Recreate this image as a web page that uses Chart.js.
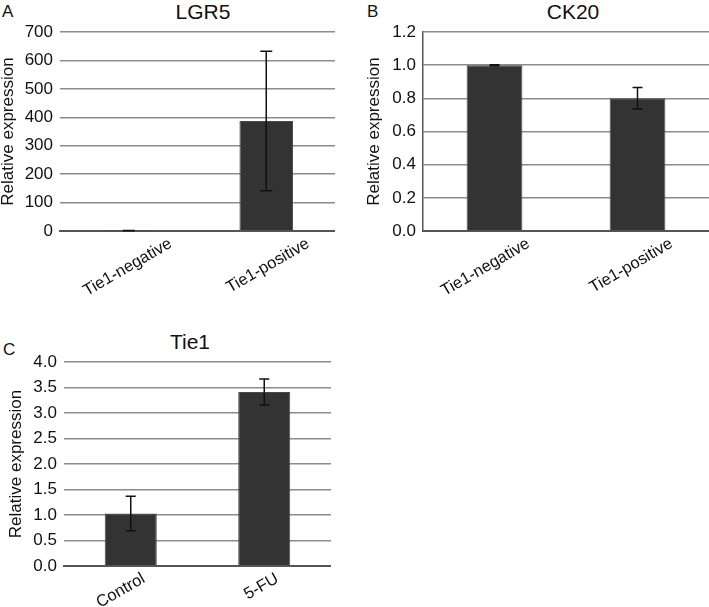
<!DOCTYPE html>
<html>
<head>
<meta charset="utf-8">
<title>Relative expression</title>
<script src="https://cdn.jsdelivr.net/npm/chart.js@4.4.1/dist/chart.umd.min.js"></script>
<style>
  html, body { margin: 0; padding: 0; background: #fff; overflow: hidden; }
  body { width: 709px; height: 607px; position: relative; font-family: "Liberation Sans", Arial, sans-serif; }
  .panel { position: absolute; }
  .letter { position: absolute; font-size: 17px; color: #111; line-height: 1; }
  .title { position: absolute; font-size: 21px; color: #111; line-height: 1; transform: translateX(-50%); white-space: nowrap; }
</style>
</head>
<body>
<div class="letter" style="left:2px;top:3px">A</div>
<div class="letter" style="left:367px;top:3px">B</div>
<div class="letter" style="left:3px;top:341px">C</div>

<div class="title" style="left:203px;top:1px">LGR5</div>
<div class="title" style="left:573px;top:1px">CK20</div>
<div class="title" style="left:190px;top:331px">Tie1</div>

<div class="panel" style="left:0;top:0"><canvas id="chartA" width="335" height="310"></canvas></div>
<div class="panel" style="left:366px;top:0"><canvas id="chartB" width="343" height="310"></canvas></div>
<div class="panel" style="left:8px;top:331px"><canvas id="chartC" width="323" height="276"></canvas></div>

<script>
// Panel A - LGR5
const lgr5Labels = ["Tie1-negative", "Tie1-positive"];
const lgr5Values = [1, 387];
const lgr5Errors = [0.5, 245];
const lgr5Ticks = [0, 700, 100];

// Panel B - CK20
const ck20Labels = ["Tie1-negative", "Tie1-positive"];
const ck20Values = [1.0, 0.8];
const ck20Errors = [0.003, 0.065];
const ck20Ticks = [0, 1.2, 0.2];

// Panel C - Tie1
const tie1Labels = ["Control", "5-FU"];
const tie1Values = [1.03, 3.41];
const tie1Errors = [0.34, 0.255];
const tie1Ticks = [0, 4, 0.5];

const FONT = "'Liberation Sans', Arial, sans-serif";

// draws the error bars from the dataset's "errors" array
const errorBars = {
  id: "errorBars",
  afterDatasetsDraw(chart, args, opts) {
    const ctx = chart.ctx;
    const y = chart.scales.y;
    const ds = chart.data.datasets[0];
    const meta = chart.getDatasetMeta(0);
    ctx.save();
    ctx.strokeStyle = "#111";
    ctx.lineWidth = 1.5;
    meta.data.forEach((bar, i) => {
      const v = ds.data[i];
      const e = ds.errors[i];
      const top = y.getPixelForValue(v + e);
      const bottom = y.getPixelForValue(Math.max(v - e, y.min));
      const x = bar.x;
      const w = opts.cap || 5;
      ctx.beginPath();
      ctx.moveTo(x, top);
      ctx.lineTo(x, bottom);
      ctx.moveTo(x - w, top);
      ctx.lineTo(x + w, top);
      ctx.moveTo(x - w, bottom);
      ctx.lineTo(x + w, bottom);
      ctx.stroke();
    });
    ctx.restore();
  },
};

function makeChart(id, labels, values, errors, ticks, o) {
  const ctx = document.getElementById(id).getContext("2d");
  return new Chart(ctx, {
    type: "bar",
    data: {
      labels: labels,
      datasets: [
        {
          data: values,
          errors: errors,
          backgroundColor: "#333333",
          borderColor: "#4a4a4a",
          borderWidth: 1,
          barPercentage: 0.39,
          categoryPercentage: 1,
        },
      ],
    },
    options: {
      responsive: false,
      animation: false,
      layout: { padding: { left: 0, right: 0, top: o.padTop, bottom: 0 } },
      plugins: {
        legend: { display: false },
        tooltip: { enabled: false },
        errorBars: { cap: o.cap },
      },
      scales: {
        x: {
          grid: { display: false, drawTicks: false },
          border: { display: true, color: "#555", width: 2 },
          ticks: {
            color: "#111",
            font: { family: FONT, size: 16.5 },
            minRotation: 30,
            maxRotation: 30,
            padding: 3,
            labelOffset: o.labelOffset,
          },
          afterFit: (scale) => {
            scale.height = o.xHeight;
          },
        },
        y: {
          min: ticks[0],
          max: ticks[1],
          grid: { color: "#8c8c8c", lineWidth: 1.5, drawTicks: false },
          border: { display: o.leftBorder, color: "#555", width: 1.5 },
          ticks: {
            stepSize: ticks[2],
            color: "#111",
            padding: 7,
            font: { family: FONT, size: 17 },
            callback: (v) => v.toFixed(o.decimals),
          },
          title: {
            display: true,
            text: "Relative expression",
            color: "#111",
            font: { family: FONT, size: 17, lineHeight: 1 },
            padding: 0,
          },
          afterFit: (scale) => {
            scale.width = o.yWidth;
          },
        },
      },
    },
    plugins: [errorBars],
  });
}

makeChart("chartA", lgr5Labels, lgr5Values, lgr5Errors, lgr5Ticks, {
  padTop: 32, cap: 6, labelOffset: 42,
  xHeight: 79, yWidth: 60, leftBorder: false, decimals: 0,
});
makeChart("chartB", ck20Labels, ck20Values, ck20Errors, ck20Ticks, {
  padTop: 32, cap: 5, labelOffset: 34,
  xHeight: 79, yWidth: 57, leftBorder: true, decimals: 1,
});
makeChart("chartC", tie1Labels, tie1Values, tie1Errors, tie1Ticks, {
  padTop: 31, cap: 5, labelOffset: 13,
  xHeight: 41, yWidth: 56, leftBorder: false, decimals: 1,
});
</script>
</body>
</html>
